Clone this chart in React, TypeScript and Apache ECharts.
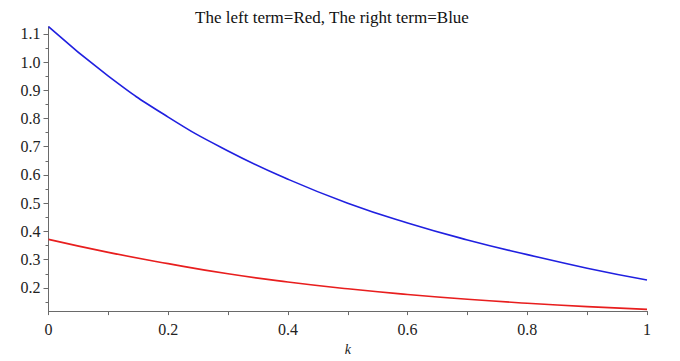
import React, { useEffect, useRef } from "react";
import * as echarts from "echarts";

const kValues = [0, 0.1, 0.2, 0.3, 0.4, 0.5, 0.6, 0.7, 0.8, 0.9, 1];
const leftTerm = [0.372, 0.326, 0.286, 0.25, 0.221, 0.197, 0.177, 0.16, 0.146, 0.134, 0.124];
const rightTerm = [1.125, 0.95, 0.805, 0.685, 0.585, 0.5, 0.43, 0.37, 0.318, 0.27, 0.228];
const yTicks = [0.2, 0.3, 0.4, 0.5, 0.6, 0.7, 0.8, 0.9, 1.0, 1.1];
const titleText = "The left term=Red, The right term=Blue";

const FONT = "Liberation Serif";

const isYTick = (v: number) => yTicks.some((t) => Math.abs(t - v) < 1e-6);

const labelRich = {
  s: { fontFamily: FONT, fontSize: 16, color: "#222" },
};

export default function App() {
  const ref = useRef<HTMLDivElement>(null);
  useEffect(() => {
    if (!ref.current) return;
    const chart = echarts.init(ref.current, undefined, { renderer: "svg" });
    const axisColor = "#6a6a6a";
    chart.setOption({
      animation: false,
      backgroundColor: "#ffffff",
      textStyle: { fontFamily: FONT },
      title: {
        text: titleText,
        left: 327,
        top: 4,
        textAlign: "center",
        textStyle: { fontFamily: FONT, fontSize: 17, fontWeight: "normal", color: "#111" },
      },
      grid: { left: 48.5, right: 33, top: 26.7, bottom: 46, containLabel: false },
      xAxis: {
        type: "value",
        min: 0,
        max: 1,
        interval: 0.2,
        name: "k",
        nameLocation: "middle",
        nameGap: 26,
        nameTextStyle: { fontFamily: FONT, fontSize: 14, fontStyle: "italic", color: "#222" },
        axisLine: { show: true, lineStyle: { color: axisColor, width: 1 } },
        axisTick: { show: true, length: 4, lineStyle: { color: axisColor } },
        minorTick: { show: true, splitNumber: 2, length: 4, lineStyle: { color: axisColor } },
        splitLine: { show: false },
        axisLabel: {
          margin: 10,
          fontFamily: FONT,
          fontSize: 16,
          color: "#222",
          textStyle: { fontFamily: FONT, fontSize: 16, color: "#222" },
          rich: labelRich,
          formatter: (v: number) => "{s|" + (v === 0 ? "0" : v === 1 ? "1" : v.toFixed(1)) + "}",
        },
      },
      yAxis: {
        type: "value",
        min: 0.118,
        max: 1.125,
        splitNumber: 10,
        axisLine: { show: true, onZero: false, lineStyle: { color: axisColor, width: 1 } },
        axisTick: { show: true, customValues: yTicks, length: 5, lineStyle: { color: axisColor } },
        minorTick: { show: true, splitNumber: 2, length: 3, lineStyle: { color: axisColor } },
        splitLine: { show: false },
        axisLabel: {
          margin: 8,
          fontFamily: FONT,
          fontSize: 16,
          color: "#222",
          textStyle: { fontFamily: FONT, fontSize: 16, color: "#222" },
          rich: labelRich,
          showMinLabel: false,
          showMaxLabel: false,
          formatter: (v: number) => (isYTick(v) ? "{s|" + v.toFixed(1) + "}" : ""),
        },
      },
      series: [
        {
          type: "line",
          name: "Right",
          data: kValues.map((k, i) => [k, rightTerm[i]]),
          smooth: true,
          showSymbol: false,
          lineStyle: { color: "#2020e0", width: 1.6 },
          itemStyle: { color: "#2020e0" },
        },
        {
          type: "line",
          name: "Left",
          data: kValues.map((k, i) => [k, leftTerm[i]]),
          smooth: true,
          showSymbol: false,
          lineStyle: { color: "#e81e1e", width: 1.6 },
          itemStyle: { color: "#e81e1e" },
        },
      ],
    });
    return () => chart.dispose();
  }, []);
  return (
    <div style={{ position: "absolute", left: 0, top: 0, width: 680, height: 361, background: "#fff" }}>
      <div ref={ref} style={{ width: 680, height: 361 }} />
    </div>
  );
}
